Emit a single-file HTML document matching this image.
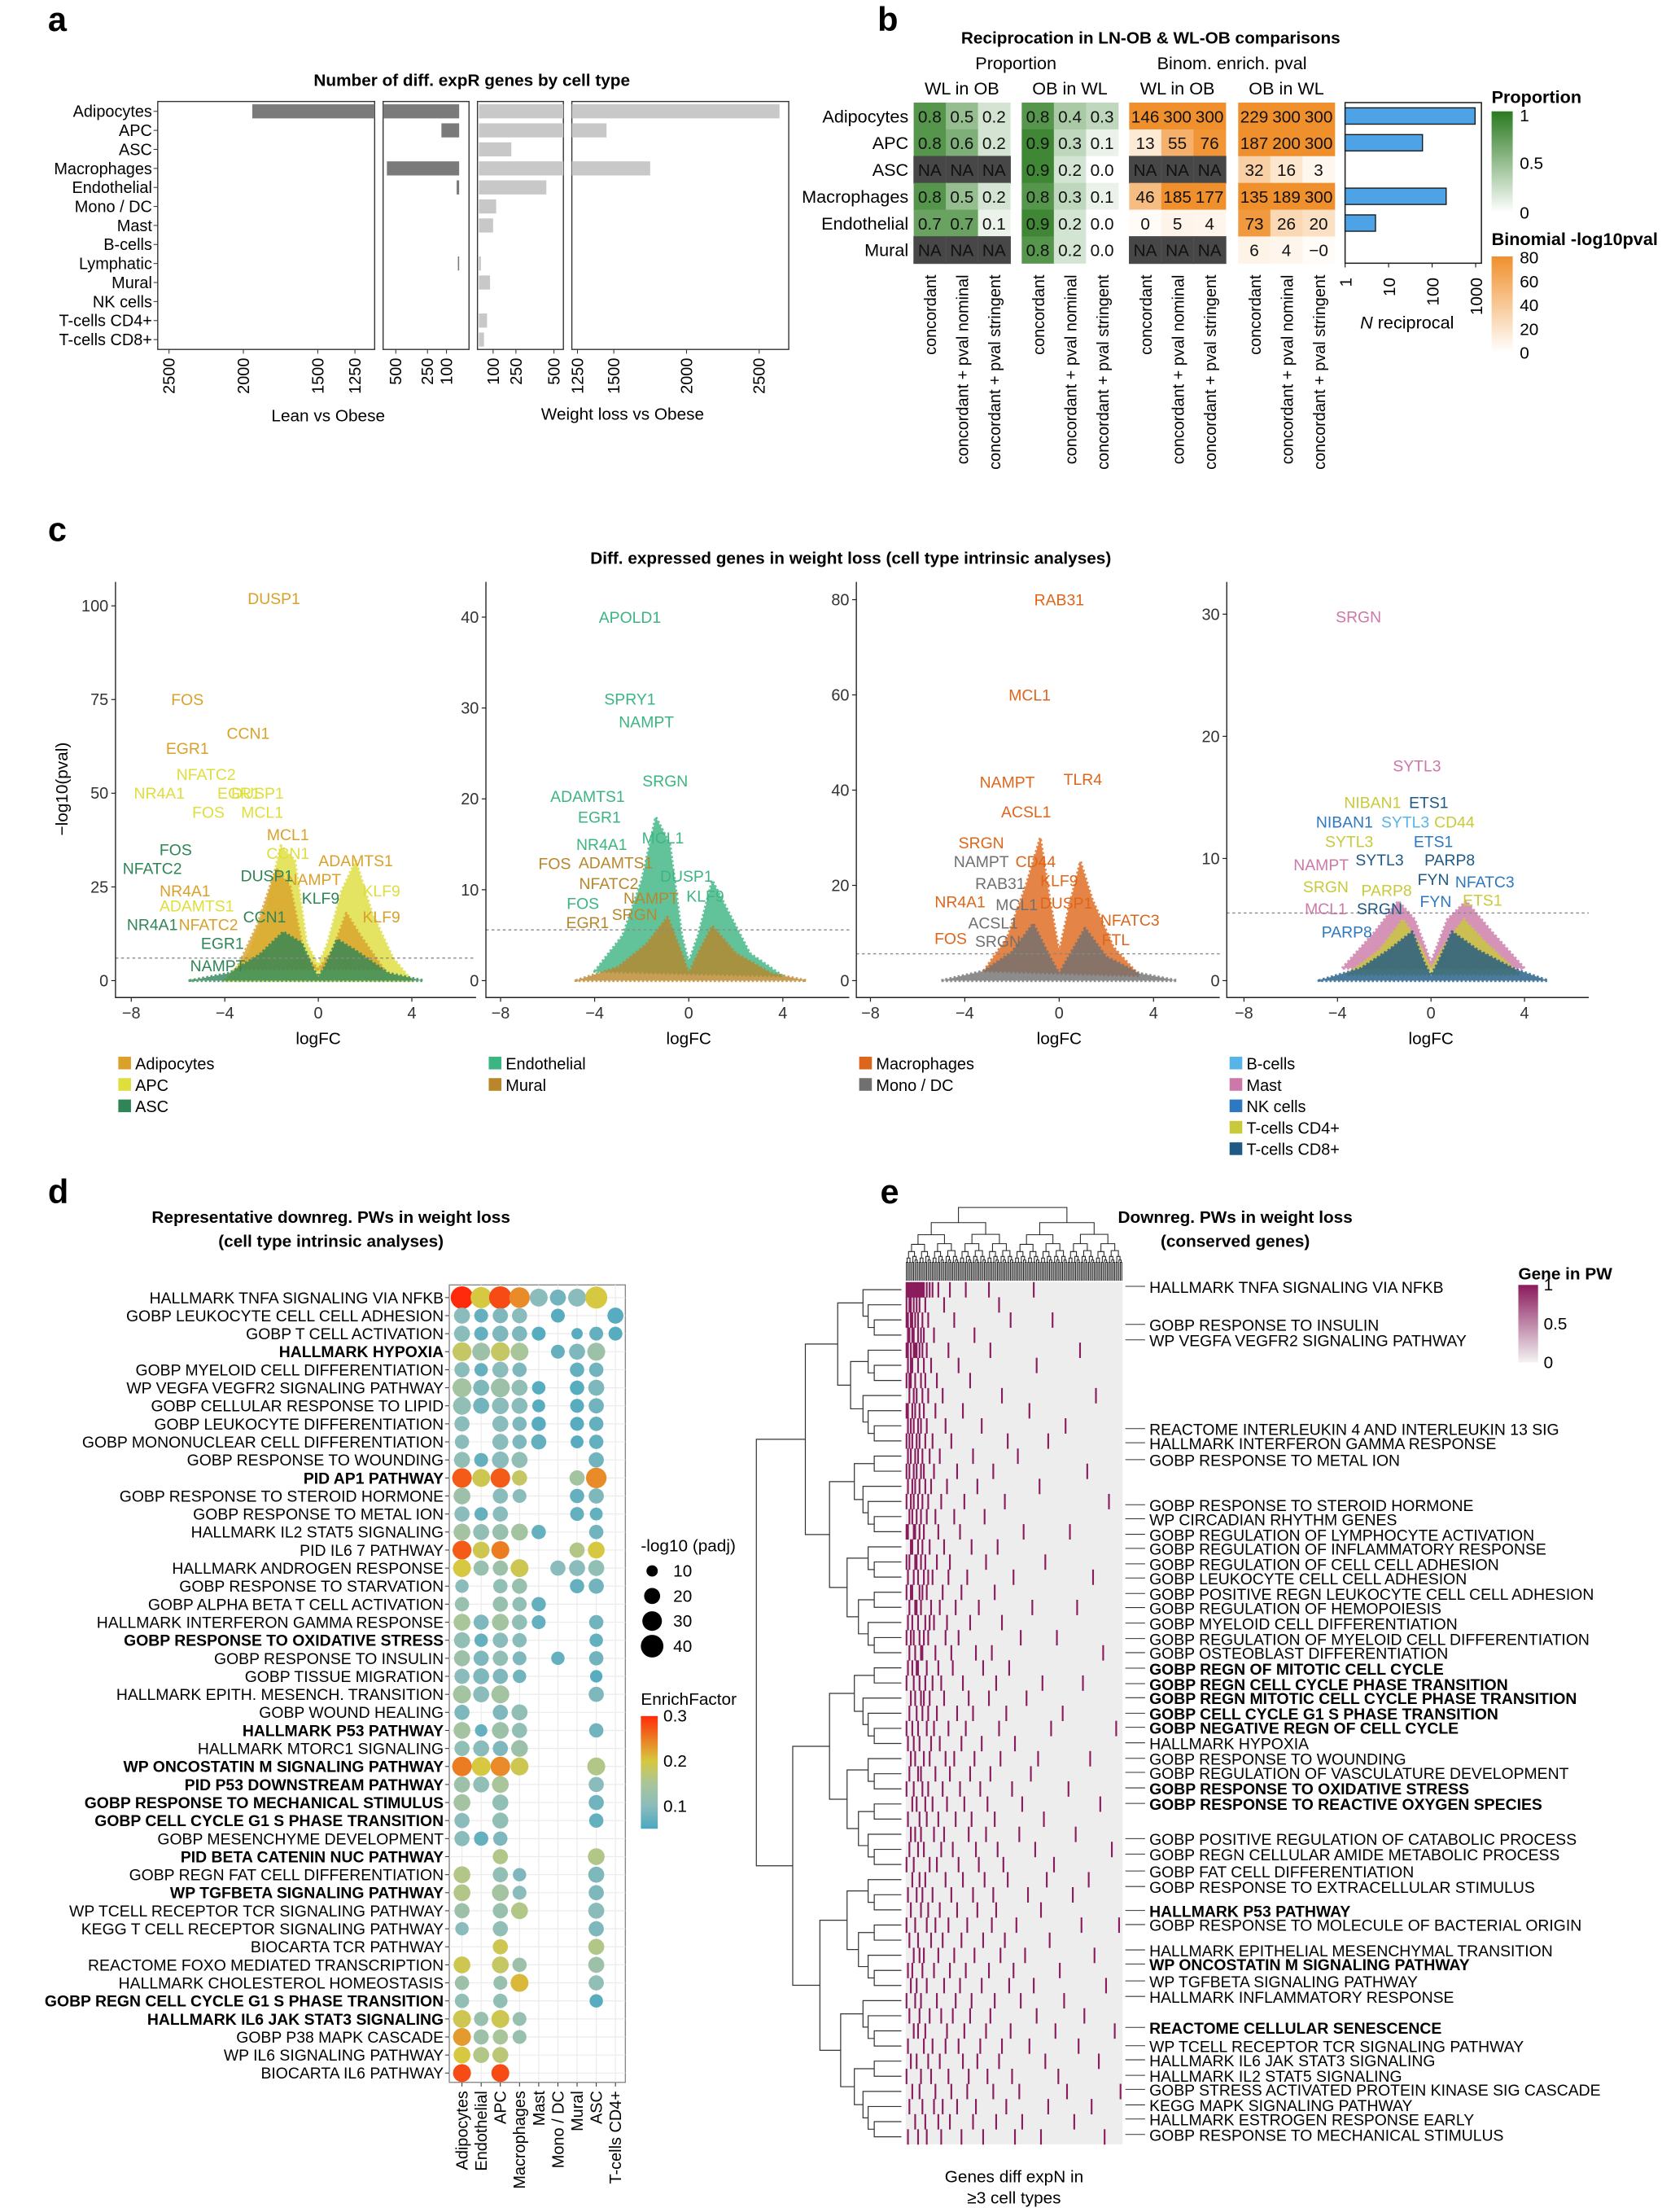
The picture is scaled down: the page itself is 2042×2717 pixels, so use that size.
<!DOCTYPE html>
<html><head><meta charset="utf-8"><style>
html,body{margin:0;padding:0;background:#fff}
svg{display:block;font-family:"Liberation Sans",sans-serif}
.n{font-family:"Liberation Sans Narrow","Liberation Sans",sans-serif}
</style></head><body>
<svg id="fig" xmlns="http://www.w3.org/2000/svg" width="2042" height="2717" viewBox="0 0 1180 1570">
<rect x="0" y="0" width="1180" height="1570" fill="#fff"/>
<text x="34" y="22" font-size="24" font-weight="bold">a</text>
<text x="623" y="22" font-size="24" font-weight="bold">b</text>
<text x="34" y="384" font-size="24" font-weight="bold">c</text>
<text x="34" y="854" font-size="24" font-weight="bold">d</text>
<text x="625" y="854" font-size="24" font-weight="bold">e</text>
<text x="335" y="61" font-size="12" font-weight="bold" text-anchor="middle">Number of diff. expR genes by cell type</text>
<text x="233" y="299" font-size="12" text-anchor="middle">Lean vs Obese</text>
<text x="442" y="298" font-size="12" text-anchor="middle">Weight loss vs Obese</text>
<text x="817" y="31" font-size="12" font-weight="bold" text-anchor="middle">Reciprocation in LN-OB &amp; WL-OB comparisons</text>
<text x="604" y="400" font-size="12" font-weight="bold" text-anchor="middle">Diff. expressed genes in weight loss (cell type intrinsic analyses)</text>
<text x="235" y="868" font-size="12" font-weight="bold" text-anchor="middle">Representative downreg. PWs in weight loss</text>
<text x="235" y="885" font-size="12" font-weight="bold" text-anchor="middle">(cell type intrinsic analyses)</text>
<text x="877" y="868" font-size="12" font-weight="bold" text-anchor="middle">Downreg. PWs in weight loss</text>
<text x="877" y="885" font-size="12" font-weight="bold" text-anchor="middle">(conserved genes)</text>
<text x="720" y="1549" font-size="12" text-anchor="middle">Genes diff expN in</text>
<text x="720" y="1564" font-size="12" text-anchor="middle">≥3 cell types</text>
<g id="ga"></g><g id="gb"></g><g id="gc"></g><g id="gd"></g><g id="ge"></g>
</svg>
<script>
const NS='http://www.w3.org/2000/svg';
function mk(tag,parent,o){const e=document.createElementNS(NS,tag);for(const k in o)e.setAttribute(k,o[k]);parent.appendChild(e);return e;}
function tx(parent,x,y,s,o){const e=mk('text',parent,Object.assign({x:x,y:y},o||{}));e.textContent=s;return e;}
function lerp(a,b,t){return a+(b-a)*t;}
function hex(c){return [parseInt(c.slice(1,3),16),parseInt(c.slice(3,5),16),parseInt(c.slice(5,7),16)];}
function mix(c1,c2,t){const a=hex(c1),b=hex(c2);return 'rgb('+a.map((v,i)=>Math.round(lerp(v,b[i],t))).join(',')+')';}

/* ---------------- Panel a data ---------------- */
const aCats=['Adipocytes','APC','ASC','Macrophages','Endothelial','Mono / DC','Mast','B-cells','Lymphatic','Mural','NK cells','T-cells CD4+','T-cells CD8+'];
const aLean=[1940,140,0,570,20,0,0,0,10,0,0,0,0];
const aWL=[2640,1450,220,1750,450,120,100,0,20,80,0,60,40];
const aTicksLeft1=[2500,2000,1500,1250];
const aTicksLeft2=[500,250,100];
const aTicksRight1=[100,250,500];
const aTicksRight2=[1250,1500,2000,2500];

/* ---------------- Panel b data ---------------- */
const bRows=['Adipocytes','APC','ASC','Macrophages','Endothelial','Mural'];
const bPropWLinOB=[[.8,.5,.2],[.8,.6,.2],null,[.8,.5,.2],[.7,.7,.1],null];
const bPropOBinWL=[[.8,.4,.3],[.9,.3,.1],[.9,.2,0],[.8,.3,.1],[.9,.2,0],[.8,.2,0]];
const bBinWLinOB=[[146,300,300],[13,55,76],null,[46,185,177],[0,5,4],null];
const bBinOBinWL=[[229,300,300],[187,200,300],[32,16,3],[135,189,300],[73,26,20],[6,4,-0]];
const bNRecip=[970,60,0,210,5,0];
const bCols=['concordant','concordant + pval nominal','concordant + pval stringent'];
const bBarTicks=[1,10,100,1000];

/* ---------------- Panel c data ---------------- */
const cGenes1=[['DUSP1',-1.9,102,0],['FOS',-5.6,75,0],['EGR1',-5.6,62,0],['CCN1',-3.0,66,0],['NFATC2',-4.8,55,1],['DUSP1',-2.6,50,1],['NR4A1',-6.8,50,1],['EGR1',-3.4,50,1],['FOS',-4.7,45,1],['MCL1',-2.4,45,1],['MCL1',-1.3,39,0],['FOS',-6.1,35,2],['CCN1',-1.3,34,1],['ADAMTS1',1.6,32,0],['NFATC2',-7.1,30,2],['NAMPT',-0.2,27,0],['DUSP1',-2.2,28,2],['NR4A1',-5.7,24,0],['KLF9',2.7,24,1],['KLF9',0.1,22,2],['ADAMTS1',-5.2,20,1],['NR4A1',-7.1,15,2],['NFATC2',-4.7,15,0],['KLF9',2.7,17,0],['CCN1',-2.3,17,2],['EGR1',-4.1,10,2],['NAMPT',-4.3,4,2]];
const cGenes2=[['APOLD1',-2.5,40,0],['SPRY1',-2.5,31,0],['NAMPT',-1.8,28.5,0],['SRGN',-1.0,22,0],['ADAMTS1',-4.3,20.3,0],['EGR1',-3.8,18,0],['MCL1',-1.1,15.7,0],['NR4A1',-3.7,15,0],['FOS',-5.7,12.9,1],['ADAMTS1',-3.1,13,1],['DUSP1',-0.1,11.5,0],['NFATC2',-3.4,10.7,1],['NAMPT',-1.6,9.1,1],['KLF9',0.7,9.3,0],['FOS',-4.5,8.5,0],['SRGN',-2.3,7.3,1],['EGR1',-4.3,6.4,1]];
const cGenes3=[['RAB31',0,80,0],['MCL1',-1.25,60,0],['NAMPT',-2.2,41.7,0],['TLR4',1,42.3,0],['ACSL1',-1.4,35.5,0],['SRGN',-3.3,29,0],['NAMPT',-3.3,25,1],['CD44',-1,25,0],['KLF9',0,21,0],['RAB31',-2.5,20.4,1],['NR4A1',-4.2,16.6,0],['MCL1',-1.8,16,1],['DUSP1',0.3,16.3,0],['NFATC3',3,12.7,0],['ACSL1',-2.8,12.1,1],['FTL',2.4,8.6,0],['FOS',-4.6,8.9,0],['SRGN',-2.6,8.3,1]];
const cGenes4=[['SRGN',-3.1,29.8,1],['SYTL3',-0.6,17.6,1],['NIBAN1',-2.5,14.6,3],['ETS1',-0.1,14.6,4],['NIBAN1',-3.7,13,2],['SYTL3',-1.1,13,0],['CD44',1,13,3],['SYTL3',-3.5,11.4,3],['ETS1',0.1,11.4,2],['NAMPT',-4.7,9.5,1],['SYTL3',-2.2,9.9,4],['PARP8',0.8,9.9,4],['FYN',0.1,8.3,4],['NFATC3',2.3,8.1,2],['SRGN',-4.5,7.7,3],['PARP8',-1.9,7.4,3],['ETS1',2.2,6.6,3],['FYN',0.2,6.5,2],['MCL1',-4.5,5.9,1],['SRGN',-2.2,5.9,4],['PARP8',-3.6,4,2]];
const cYTicks1=[0,25,50,75,100], cYTicks2=[0,10,20,30,40], cYTicks3=[0,20,40,60,80], cYTicks4=[0,10,20,30];
const cXTicks=[-8,-4,0,4];

/* ---------------- Panel d data ---------------- */
const dPaths=['HALLMARK TNFA SIGNALING VIA NFKB','GOBP LEUKOCYTE CELL CELL ADHESION','GOBP T CELL ACTIVATION','HALLMARK HYPOXIA','GOBP MYELOID CELL DIFFERENTIATION','WP VEGFA VEGFR2 SIGNALING PATHWAY','GOBP CELLULAR RESPONSE TO LIPID','GOBP LEUKOCYTE DIFFERENTIATION','GOBP MONONUCLEAR CELL DIFFERENTIATION','GOBP RESPONSE TO WOUNDING','PID AP1 PATHWAY','GOBP RESPONSE TO STEROID HORMONE','GOBP RESPONSE TO METAL ION','HALLMARK IL2 STAT5 SIGNALING','PID IL6 7 PATHWAY','HALLMARK ANDROGEN RESPONSE','GOBP RESPONSE TO STARVATION','GOBP ALPHA BETA T CELL ACTIVATION','HALLMARK INTERFERON GAMMA RESPONSE','GOBP RESPONSE TO OXIDATIVE STRESS','GOBP RESPONSE TO INSULIN','GOBP TISSUE MIGRATION','HALLMARK EPITH. MESENCH. TRANSITION','GOBP WOUND HEALING','HALLMARK P53 PATHWAY','HALLMARK MTORC1 SIGNALING','WP ONCOSTATIN M SIGNALING PATHWAY','PID P53 DOWNSTREAM PATHWAY','GOBP RESPONSE TO MECHANICAL STIMULUS','GOBP CELL CYCLE G1 S PHASE TRANSITION','GOBP MESENCHYME DEVELOPMENT','PID BETA CATENIN NUC PATHWAY','GOBP REGN FAT CELL DIFFERENTIATION','WP TGFBETA SIGNALING PATHWAY','WP TCELL RECEPTOR TCR SIGNALING PATHWAY','KEGG T CELL RECEPTOR SIGNALING PATHWAY','BIOCARTA TCR PATHWAY','REACTOME FOXO MEDIATED TRANSCRIPTION','HALLMARK CHOLESTEROL HOMEOSTASIS','GOBP REGN CELL CYCLE G1 S PHASE TRANSITION','HALLMARK IL6 JAK STAT3 SIGNALING','GOBP P38 MAPK CASCADE','WP IL6 SIGNALING PATHWAY','BIOCARTA IL6 PATHWAY'];
const dBold=[3,10,19,24,26,27,28,29,31,33,39,40];
const dCells=['Adipocytes','Endothelial','APC','Macrophages','Mast','Mono / DC','Mural','ASC','T-cells CD4+'];
/* each entry: [column, -log10 padj, enrich factor] */
const dDots=[
[[0,40,.3],[1,35,.2],[2,40,.28],[3,33,.24],[4,25,.1],[5,20,.08],[6,25,.1],[7,38,.2]],
[[0,20,.1],[1,15,.07],[2,18,.09],[3,18,.1],[5,15,.06],[8,20,.06]],
[[0,20,.1],[1,15,.07],[2,20,.09],[3,18,.09],[4,15,.06],[6,10,.06],[7,15,.07],[8,15,.06]],
[[0,28,.18],[1,25,.13],[2,28,.18],[3,25,.15],[5,15,.07],[6,20,.09],[7,25,.13]],
[[0,18,.1],[1,14,.07],[2,20,.1],[3,16,.09],[6,16,.07],[7,16,.08]],
[[0,28,.14],[1,20,.09],[2,28,.13],[3,20,.11],[4,14,.06],[6,16,.06],[7,20,.09]],
[[0,25,.11],[1,20,.08],[2,22,.1],[3,20,.1],[4,13,.06],[6,15,.06],[7,18,.08]],
[[0,18,.1],[2,20,.1],[3,16,.09],[4,16,.06],[6,15,.06],[7,16,.07]],
[[0,16,.1],[2,20,.1],[3,16,.09],[4,18,.07],[6,13,.06],[7,16,.07]],
[[0,20,.11],[1,15,.07],[2,22,.1],[3,20,.11],[7,18,.08]],
[[0,30,.27],[1,25,.19],[2,30,.27],[3,18,.18],[6,18,.14],[7,33,.24]],
[[0,22,.13],[2,18,.1],[3,15,.1],[6,16,.07],[7,18,.09]],
[[0,18,.1],[1,14,.07],[2,18,.1],[6,15,.07],[7,13,.07]],
[[0,22,.14],[1,20,.11],[2,20,.12],[3,22,.14],[4,16,.07],[7,16,.08]],
[[0,28,.27],[1,22,.19],[2,25,.25],[6,18,.16],[7,22,.2]],
[[0,25,.2],[1,18,.12],[2,18,.13],[3,25,.19],[5,18,.1],[6,20,.1],[7,20,.11]],
[[0,14,.1],[2,16,.11],[3,18,.12],[6,16,.07],[7,18,.08]],
[[0,16,.12],[2,18,.12],[3,16,.11],[4,16,.07]],
[[0,22,.15],[1,18,.09],[2,22,.14],[3,18,.11],[4,15,.07],[7,16,.08]],
[[0,20,.11],[1,14,.07],[2,18,.1],[3,16,.1],[7,14,.07]],
[[0,20,.13],[1,18,.09],[2,18,.11],[3,15,.09],[5,14,.07],[7,16,.08]],
[[0,18,.1],[1,20,.09],[2,18,.09],[3,14,.08],[7,12,.06]],
[[0,25,.14],[1,20,.1],[2,25,.14],[7,18,.09]],
[[0,18,.09],[2,18,.09],[3,20,.11]],
[[0,22,.14],[1,12,.07],[2,22,.13],[3,18,.11],[7,16,.08]],
[[0,18,.11],[1,20,.1],[2,18,.09],[3,22,.13]],
[[0,30,.25],[1,28,.2],[2,30,.24],[3,25,.19],[7,25,.16]],
[[0,20,.13],[1,20,.11],[2,22,.15],[7,18,.1]],
[[0,22,.14],[2,20,.11],[7,18,.08]],
[[0,18,.1],[2,20,.11],[7,16,.07]],
[[0,18,.1],[1,16,.07],[2,16,.09]],
[[2,18,.16],[7,22,.16]],
[[0,22,.16],[2,18,.11],[3,14,.09],[7,20,.09]],
[[0,22,.16],[2,22,.14],[3,15,.1],[7,18,.09]],
[[0,18,.13],[2,18,.12],[3,22,.16],[7,20,.1]],
[[0,14,.1],[2,18,.11],[7,18,.09]],
[[2,18,.19],[7,20,.16]],
[[0,22,.19],[2,22,.18],[3,16,.13],[7,20,.13]],
[[0,16,.13],[2,15,.12],[3,25,.21],[7,18,.11]],
[[0,16,.11],[2,16,.11],[7,14,.06]],
[[0,25,.19],[1,16,.12],[2,25,.19],[3,15,.12]],
[[0,25,.23],[1,18,.13],[2,18,.15],[3,15,.12]],
[[0,22,.2],[1,20,.16],[2,20,.17]],
[[0,25,.28],[2,25,.28]]];
const dSizeTicks=[10,20,30,40];
const dColorTicks=[0.1,0.2,0.3];

/* ---------------- Panel e data ---------------- */
const eLabels=[['HALLMARK TNFA SIGNALING VIA NFKB',914,0],['GOBP RESPONSE TO INSULIN',941,0],['WP VEGFA VEGFR2 SIGNALING PATHWAY',952,0],['REACTOME INTERLEUKIN 4 AND INTERLEUKIN 13 SIG',1015,0],['HALLMARK INTERFERON GAMMA RESPONSE',1025,0],['GOBP RESPONSE TO METAL ION',1037,0],['GOBP RESPONSE TO STEROID HORMONE',1069,0],['WP CIRCADIAN RHYTHM GENES',1079,0],['GOBP REGULATION OF LYMPHOCYTE ACTIVATION',1090,0],['GOBP REGULATION OF INFLAMMATORY RESPONSE',1100,0],['GOBP REGULATION OF CELL CELL ADHESION',1111,0],['GOBP LEUKOCYTE CELL CELL ADHESION',1121,0],['GOBP POSITIVE REGN LEUKOCYTE CELL CELL ADHESION',1132,0],['GOBP REGULATION OF HEMOPOIESIS',1142,0],['GOBP MYELOID CELL DIFFERENTIATION',1153,0],['GOBP REGULATION OF MYELOID CELL DIFFERENTIATION',1164,0],['GOBP OSTEOBLAST DIFFERENTIATION',1174,0],['GOBP REGN OF MITOTIC CELL CYCLE',1185,1],['GOBP REGN CELL CYCLE PHASE TRANSITION',1196,1],['GOBP REGN MITOTIC CELL CYCLE PHASE TRANSITION',1206,1],['GOBP CELL CYCLE G1 S PHASE TRANSITION',1217,1],['GOBP NEGATIVE REGN OF CELL CYCLE',1227,1],['HALLMARK HYPOXIA',1238,0],['GOBP RESPONSE TO WOUNDING',1249,0],['GOBP REGULATION OF VASCULATURE DEVELOPMENT',1259,0],['GOBP RESPONSE TO OXIDATIVE STRESS',1270,1],['GOBP RESPONSE TO REACTIVE OXYGEN SPECIES',1281,1],['GOBP POSITIVE REGULATION OF CATABOLIC PROCESS',1306,0],['GOBP REGN CELLULAR AMIDE METABOLIC PROCESS',1317,0],['GOBP FAT CELL DIFFERENTIATION',1329,0],['GOBP RESPONSE TO EXTRACELLULAR STIMULUS',1340,0],['HALLMARK P53 PATHWAY',1357,1],['GOBP RESPONSE TO MOLECULE OF BACTERIAL ORIGIN',1367,0],['HALLMARK EPITHELIAL MESENCHYMAL TRANSITION',1385,0],['WP ONCOSTATIN M SIGNALING PATHWAY',1395,1],['WP TGFBETA SIGNALING PATHWAY',1407,0],['HALLMARK INFLAMMATORY RESPONSE',1418,0],['REACTOME CELLULAR SENESCENCE',1440,1],['WP TCELL RECEPTOR TCR SIGNALING PATHWAY',1453,0],['HALLMARK IL6 JAK STAT3 SIGNALING',1463,0],['HALLMARK IL2 STAT5 SIGNALING',1474,0],['GOBP STRESS ACTIVATED PROTEIN KINASE SIG CASCADE',1484,0],['KEGG MAPK SIGNALING PATHWAY',1495,0],['HALLMARK ESTROGEN RESPONSE EARLY',1505,0],['GOBP RESPONSE TO MECHANICAL STIMULUS',1516,0]];
/* gene membership: per pathway row, gene column indices (0-149) */
const eMember=[
[0,1,2,3,4,5,6,7,8,9,10,11,12,14,16,18,22,30,41,57,88],
[0,2,3,5,7,9,13,26,64],
[0,1,3,4,6,8,11,15,33,72,101],
[1,2,4,5,8,10,12,19,47],
[0,1,3,5,6,7,9,11,14,29,58,120],
[1,3,4,8,12,17,36,90],
[0,2,3,6,10,13,21,44],
[2,5,7,11,15,25,66,131],
[0,1,4,6,9,12,20,39,85],
[1,3,5,8,10,14,27,52,110],
[0,2,4,7,9,13,18,31,70,98],
[1,3,6,8,11,16,23,46,77],
[0,2,5,7,10,12,19,35,60,125],
[1,4,6,9,13,17,28,49,92],
[0,3,5,8,11,15,24,40,68,140],
[2,4,7,10,14,20,33,54],
[0,1,5,6,9,12,22,37,81,113],
[3,4,8,11,16,26,45,63],
[0,2,6,7,10,13,21,30,55,96],
[1,5,8,12,15,18,29,42,74,129],
[0,3,4,9,11,14,25,38,61],
[2,6,7,10,17,23,34,50,87,118],
[1,4,8,13,16,19,28,44,66],
[0,3,5,9,12,15,27,36,79,104],
[2,6,10,11,20,31,48,59,136],
[1,4,7,8,14,22,32,53,71],
[0,5,9,13,18,24,39,62,94,122],
[3,6,10,12,16,26,43,57,83],
[2,7,11,15,21,35,46,69,108],
[0,4,8,14,19,29,41,64,100,145],
[1,5,9,17,23,38,52,75],
[3,6,12,16,27,33,47,65,91,127],
[2,8,10,20,30,44,58,86],
[0,5,11,15,25,37,51,73,112],
[4,7,13,18,28,40,56,80,134],
[1,9,14,22,34,45,61,95],
[3,6,10,19,26,43,55,78,117],
[2,8,12,24,32,48,63,89,142],
[0,5,16,21,36,50,67,102],
[4,9,13,27,39,54,70,97,126],
[1,7,11,18,31,46,60,84,115],
[3,10,15,23,35,49,62,93],
[0,6,14,20,29,42,59,76,121,147],
[2,8,17,25,38,53,68,99],
[5,9,12,22,33,47,65,82,130],
[1,4,11,19,30,41,57,74,106],
[3,7,14,26,37,52,71,88,138],
[0,6,10,21,34,45,61,79,109],
[2,9,16,24,32,44,58,90,123],
[5,8,13,28,40,55,72,103,144],
[1,12,18,27,36,51,66,85,119],
[3,7,15,23,39,49,64,96,133],
[0,10,17,29,43,56,73,105],
[4,9,20,31,42,60,78,111,148],
[2,11,19,25,35,48,69,98,128],
[6,13,22,30,46,62,80,116],
[1,8,14,24,38,53,75,93,137]];
const eLegendTicks=[1,0.5,0];

/* ============ draw panel a ============ */
(function(){
const g=document.getElementById('ga');
const yTop=72,yBot=248;
const ry=i=>79+i*13.5;
const xL1=v=>252-(v-1250)*0.1056;
const xL2=v=>326-v*0.09;
const xR1=v=>339.3+v*0.108;
const xR2=v=>410+(v-1250)*0.1032;
const frames=[[112,266],[272,333],[339,400],[406,560]];
frames.forEach((f,k)=>{
 const r=mk('rect',g,{x:f[0],y:yTop,width:f[1]-f[0],height:yBot-yTop,fill:'none',stroke:'#333','stroke-width':0.8});
 
 
});
aCats.forEach((c,i)=>{
 const t=tx(g,108,ry(i)+4,c,{'font-size':11.5,'text-anchor':'end'});
 
 
 mk('line',g,{x1:109,x2:112,y1:ry(i),y2:ry(i),stroke:'#333','stroke-width':0.6});
 const v=aLean[i];
 if(v>0){
  const x0=Math.max(272,xL2(Math.min(v,604)));
  const b=mk('rect',g,{x:x0,y:ry(i)-5,width:326-x0,height:10,fill:'#7a7a7a'});
  
  
  if(v>1250){
   const b2=mk('rect',g,{x:xL1(v),y:ry(i)-5,width:266-xL1(v),height:10,fill:'#7a7a7a'});
   
   
  }
 }
 const w=aWL[i];
 if(w>0){
  const x1=Math.min(400,xR1(w));
  const b=mk('rect',g,{x:340,y:ry(i)-5,width:x1-340,height:10,fill:'#c8c8c8'});
  
  
  if(w>1211){
   const b2=mk('rect',g,{x:406,y:ry(i)-5,width:xR2(w)-406,height:10,fill:'#c8c8c8'});
   
   
  }
 }
});
function ticks(arr,fn,name){arr.forEach(v=>{const x=fn(v);mk('line',g,{x1:x,x2:x,y1:yBot,y2:yBot+3,stroke:'#333','stroke-width':0.6});
 const t=tx(g,x+4,yBot+6,String(v),{'font-size':11.5,'text-anchor':'end',transform:'rotate(-90 '+(x+4)+' '+(yBot+6)+')'});
 
 });}
ticks(aTicksLeft1,xL1,'lean-upper');ticks(aTicksLeft2,xL2,'lean-lower');ticks(aTicksRight1,xR1,'wl-lower');ticks(aTicksRight2,xR2,'wl-upper');
})();

/* ============ draw panel b ============ */
(function(){
const g=document.getElementById('gb');
const gx=[648.7,725.4,801.7,879.1],cw=22.83,rh=19,top=72.8;
const propC=v=>mix('#ffffff','#2a7a1f',Math.max(0,Math.min(1,v)));
const binC=v=>mix('#fffbf6','#f0902c',Math.max(0,Math.min(80,v))/80);
const groups=[[bPropWLinOB,propC,'prop-wl-in-ob'],[bPropOBinWL,propC,'prop-ob-in-wl'],[bBinWLinOB,binC,'binom-wl-in-ob'],[bBinOBinWL,binC,'binom-ob-in-wl']];
const hdr=['WL in OB','OB in WL','WL in OB','OB in WL'];
hdr.forEach((h,k)=>{const t=tx(g,gx[k]+cw*1.5,67,h,{'font-size':12.5,'text-anchor':'middle','class':'n'});
 
 });
let t=tx(g,(gx[0]+gx[1]+3*cw)/2,49,'Proportion',{'font-size':12.5,'text-anchor':'middle','class':'n'});


t=tx(g,(gx[2]+gx[3]+3*cw)/2,49,'Binom. enrich. pval',{'font-size':12.5,'text-anchor':'middle','class':'n'});


bRows.forEach((r,i)=>{
 const y=top+i*rh;
 const l=tx(g,645,y+rh/2+4.5,r,{'font-size':12.5,'text-anchor':'end','class':'n'});
 
 
 groups.forEach((G,k)=>{
  for(let j=0;j<3;j++){
   const row=G[0][i];const v=row?row[j]:null;
   const x=gx[k]+j*cw;
   const c=mk('rect',g,{x:x,y:y,width:cw+0.3,height:rh+0.3,fill:v===null?'#474747':G[1](v),stroke:v===null?'#555':'none','stroke-width':0.4});
   
   
   const s=v===null?'NA':(k<2?v.toFixed(1):(Object.is(v,-0)?'−0':String(v)));
   const tt=tx(g,x+cw/2,y+rh/2+4.5,s,{'font-size':12,'text-anchor':'middle','class':'n',fill:'#111'});
   
   
  }
 });
});
for(let k=0;k<4;k++)for(let j=0;j<3;j++){
 const x=gx[k]+j*cw+cw/2+4.5;
 const lt=tx(g,x,195,bCols[j],{'font-size':11.5,'text-anchor':'end',transform:'rotate(-90 '+x+' 195)'});
 
 
}
const bx0=955,bx1=1051.8,dec=30.9;
const xb=v=>bx0+Math.log10(v)*dec;
let fr=mk('rect',g,{x:bx0,y:top,width:bx1-bx0,height:rh*6,fill:'none',stroke:'#222','stroke-width':0.9});


bNRecip.forEach((v,i)=>{ if(v>1){
 const b=mk('rect',g,{x:bx0,y:top+i*rh+3.7,width:xb(v)-bx0,height:11.6,fill:'#4da3e6',stroke:'#1a1a1a','stroke-width':0.8});
 
 }});
bBarTicks.forEach(v=>{const x=xb(v);mk('line',g,{x1:x,x2:x,y1:top+rh*6,y2:top+rh*6+3,stroke:'#222','stroke-width':0.7});
 const lt=tx(g,x+4.5,197,String(v),{'font-size':12,'text-anchor':'end','class':'n',transform:'rotate(-90 '+(x+4.5)+' 197)'});
 
 });
t=tx(g,999,233,'',{'font-size':12.5,'text-anchor':'middle','class':'n'});
t.innerHTML='<tspan font-style="italic">N</tspan> reciprocal';


const defs=mk('defs',g,{});
const lg1=mk('linearGradient',defs,{id:'gProp',x1:0,y1:0,x2:0,y2:1});
mk('stop',lg1,{offset:0,'stop-color':'#2a7a1f'});mk('stop',lg1,{offset:1,'stop-color':'#ffffff'});
const lg2=mk('linearGradient',defs,{id:'gBin',x1:0,y1:0,x2:0,y2:1});
mk('stop',lg2,{offset:0,'stop-color':'#f0902c'});mk('stop',lg2,{offset:1,'stop-color':'#ffffff'});
t=tx(g,1059,73,'Proportion',{'font-size':12.5,'font-weight':'bold','class':'n'});


let r=mk('rect',g,{x:1059,y:79,width:15,height:72,fill:'url(#gProp)'});


[[1,82],[0.5,116],[0,151]].forEach(p=>{const lt=tx(g,1079,p[1]+4,String(p[0]),{'font-size':12,'class':'n'});
 
 });
t=tx(g,1059,174,'Binomial -log10pval',{'font-size':12.5,'font-weight':'bold','class':'n'});


r=mk('rect',g,{x:1059,y:182,width:15,height:68,fill:'url(#gBin)'});


[80,60,40,20,0].forEach((v,k)=>{const lt=tx(g,1079,187+k*16.9,String(v),{'font-size':12,'class':'n'});
 
 });
})();

/* ============ draw panel c ============ */
(function(){
const g=document.getElementById('gc');
const panels=[
 {x0:226,sx:16.6,sy:2.66,left:82,right:338,genes:cGenes1,yt:cYTicks1,dash:680,cols:['#d9a12a','#dede3c','#2f8556'],names:['Adipocytes','APC','ASC'],
  clouds:[[1,[[-4,0],[-3,7],[-2.2,20],[-1.6,36],[-1,32],[-0.5,10],[0,4],[0.4,10],[1,24],[1.6,32],[2.3,18],[3.2,6],[4,0]]],
          [0,[[-3.5,3],[-2.6,15],[-1.8,30],[-1.2,25],[-0.6,7],[0,3],[0.6,8],[1.2,18],[1.8,12],[2.8,3]]],
          [2,[[-5.5,0],[-3.8,2],[-2.5,7],[-1.5,13],[-0.7,10],[-0.2,3],[0,1],[0.3,4],[0.8,11],[1.6,8],[3,2],[4.5,0]]]]},
 {x0:489,sx:16.7,sy:6.45,left:345,right:603,genes:cGenes2,yt:cYTicks2,dash:660,cols:['#3cb582','#b9862c'],names:['Endothelial','Mural'],
  clouds:[[0,[[-4,1],[-2.8,5],[-2,11],[-1.4,18],[-0.8,15],[-0.3,5],[0,2],[0.4,5],[1,11],[1.6,8],[2.6,3],[4,0.5]]],
          [1,[[-4.8,0],[-3,1.5],[-1.8,4],[-0.9,7],[-0.3,3],[0,0.8],[0.4,3],[1,6],[2,3],[3.5,0.8],[5,0]]]]},
 {x0:752,sx:16.75,sy:3.38,left:608,right:866,genes:cGenes3,yt:cYTicks3,dash:677,cols:['#de661a','#707070'],names:['Macrophages','Mono / DC'],
  clouds:[[0,[[-3.2,2],[-2.2,9],[-1.4,20],[-0.8,30],[-0.4,17],[0,6],[0.4,15],[0.9,25],[1.4,17],[2.3,7],[3.4,1]]],
          [1,[[-5,0],[-3.2,2],[-2,6],[-1.1,12],[-0.4,5],[0,1.5],[0.4,5],[1.1,11],[2,5],[3.4,1.5],[5,0]]]]},
 {x0:1016,sx:16.6,sy:8.67,left:871,right:1128,genes:cGenes4,yt:cYTicks4,dash:648,cols:['#56b4e9','#cc79a7','#2e78c0','#c9c93a','#1f5a85'],names:['B-cells','Mast','NK cells','T-cells CD4+','T-cells CD8+'],
  clouds:[[1,[[-3.8,1],[-2.4,4],[-1.4,6.5],[-0.7,5],[0,1.5],[0.7,5],[1.5,6.5],[2.6,4],[4,1]]],
          [3,[[-3.6,0.5],[-2.2,2.5],[-1.2,5],[-0.5,3],[0,1],[0.6,3],[1.4,5],[2.4,3],[3.8,0.5]]],
          [4,[[-4.8,0],[-3,1],[-1.8,2.5],[-0.8,4],[-0.3,1.5],[0,0.4],[0.3,1.5],[0.9,4],[2,2.5],[3.5,1],[5,0]]]]}
];
panels.forEach((P,pi)=>{
 const X=v=>P.x0+v*P.sx, Y=v=>696-v*P.sy;
 P.clouds.forEach((cl,ci)=>{
  const pts=cl[1].map(p=>X(p[0]).toFixed(1)+','+Y(p[1]).toFixed(1)).join(' ');
  const pl=mk('polygon',g,{points:pts,fill:P.cols[cl[0]],opacity:0.8,stroke:P.cols[cl[0]],'stroke-width':2,'stroke-dasharray':'1.5 1.5','stroke-linejoin':'round'});
  
  
 });
 const d=mk('line',g,{x1:P.left,x2:P.right,y1:P.dash,y2:P.dash,stroke:'#888','stroke-width':0.8,'stroke-dasharray':'2 2'});
 
 
 const ax=mk('path',g,{d:'M'+P.left+' 413 V708 H'+P.right,fill:'none',stroke:'#222','stroke-width':0.8});
 
 
 P.yt.forEach(v=>{mk('line',g,{x1:P.left-3,x2:P.left,y1:Y(v),y2:Y(v),stroke:'#222','stroke-width':0.7});
  const t=tx(g,P.left-5,Y(v)+4,String(v),{'font-size':11.5,'text-anchor':'end',fill:'#333'});
  
  });
 cXTicks.forEach(v=>{mk('line',g,{x1:X(v),x2:X(v),y1:708,y2:711,stroke:'#222','stroke-width':0.7});
  const t=tx(g,X(v),723,v<0?'−'+(-v):String(v),{'font-size':11.5,'text-anchor':'middle',fill:'#333'});
  
  });
 const xl=tx(g,X(0),741,'logFC',{'font-size':12,'text-anchor':'middle'});
 
 
 P.genes.forEach(gn=>{
  const t=tx(g,X(gn[1]),Y(gn[2])+4,gn[0],{'font-size':11.2,'text-anchor':'middle',fill:P.cols[gn[3]]});
  
  
 });
 P.names.forEach((n,k)=>{
  const r=mk('rect',g,{x:P.left+2,y:750+k*15.2,width:9,height:9,fill:P.cols[k]});
  
  
  const t=tx(g,P.left+14,759+k*15.2,n,{'font-size':11.5});
  
  
 });
});
const yl=tx(g,48,560,'−log10(pval)',{'font-size':12,'text-anchor':'middle',transform:'rotate(-90 48 560)'});


})();

/* ============ draw panel d ============ */
(function(){
const g=document.getElementById('gd');
const cx=j=>328+j*13.62, cy=i=>921+i*12.8;
const rad=v=>1.27*Math.sqrt(v);
const stops=[[0.05,'#4aa8c0'],[0.1,'#8bbcbc'],[0.15,'#a9c59a'],[0.2,'#d6c840'],[0.25,'#ec7c22'],[0.3,'#ff2a0c']];
function col(v){if(v<=stops[0][0])return stops[0][1];for(let k=1;k<stops.length;k++){if(v<=stops[k][0]){const t=(v-stops[k-1][0])/(stops[k][0]-stops[k-1][0]);return mix(stops[k-1][1],stops[k][1],t);}}return stops[stops.length-1][1];}
const bx=mk('rect',g,{x:319,y:912,width:125,height:566,fill:'#fff',stroke:'#888','stroke-width':0.8});


dCells.forEach((c,j)=>{mk('line',g,{x1:cx(j),x2:cx(j),y1:912,y2:1478,stroke:'#ebebeb','stroke-width':0.7});});
dPaths.forEach((p,i)=>{mk('line',g,{x1:319,x2:444,y1:cy(i),y2:cy(i),stroke:'#ebebeb','stroke-width':0.7});
 const t=tx(g,315,cy(i)+4,p,{'font-size':11.2,'text-anchor':'end','font-weight':dBold.includes(i)?'bold':'normal'});
 
 
 mk('line',g,{x1:316,x2:319,y1:cy(i),y2:cy(i),stroke:'#333','stroke-width':0.6});
});
dDots.forEach((row,i)=>row.forEach(d=>{
 const c=mk('circle',g,{cx:cx(d[0]),cy:cy(i),r:rad(d[1]),fill:col(d[2])});
 
 
}));
dCells.forEach((c,j)=>{const x=cx(j)+4;mk('line',g,{x1:cx(j),x2:cx(j),y1:1478,y2:1481,stroke:'#333','stroke-width':0.6});
 const t=tx(g,x,1484,c,{'font-size':11.5,'text-anchor':'end',transform:'rotate(-90 '+x+' 1484)'});
 
 });
let t=tx(g,455,1101,'-log10 (padj)',{'font-size':12});


dSizeTicks.forEach((v,k)=>{const y=1115+k*17.8;
 const c=mk('circle',g,{cx:463,cy:y,r:rad(v),fill:'#000'});
 
 
 const l=tx(g,478,y+4,String(v),{'font-size':12});
 
 });
t=tx(g,455,1210,'EnrichFactor',{'font-size':12});


const defs=mk('defs',g,{});
const lg=mk('linearGradient',defs,{id:'gEnr',x1:0,y1:1,x2:0,y2:0});
stops.forEach(s=>mk('stop',lg,{offset:((s[0]-0.05)/0.25).toFixed(2),'stop-color':s[1]}));
const r=mk('rect',g,{x:455,y:1218,width:12,height:80,fill:'url(#gEnr)'});


dColorTicks.forEach(v=>{const y=1298-(v-0.05)/0.25*80;
 const l=tx(g,471,y+4,String(v),{'font-size':12});
 
 });
})();

/* ============ draw panel e ============ */
(function(){
const g=document.getElementById('ge');
const hx0=643,hx1=797,hy0=910,hy1=1522,nC=150,nR=eMember.length;
const cwid=(hx1-hx0)/nC, rhgt=(hy1-hy0)/nR;
const bg=mk('rect',g,{x:hx0,y:hy0,width:hx1-hx0,height:hy1-hy0,fill:'#ededed'});


eMember.forEach((row,i)=>row.forEach(c=>{
 const r=mk('rect',g,{x:hx0+c*cwid,y:hy0+i*rhgt,width:cwid+0.2,height:rhgt+0.2,fill:'#8a1b5c'});
 
 
}));
const rd=mk('g',g,{stroke:'#333','stroke-width':0.7,fill:'none'});


function rtree(a,b){
 const n=b-a+1; if(n===1) return [hy0+(a+0.5)*rhgt,640];
 const m=a+Math.max(0,Math.floor(n*0.45)-1);
 const L=rtree(a,m),R=rtree(m+1,b);const x=640-103*Math.sqrt(n/nR);
 mk('path',rd,{d:'M'+L[1]+' '+L[0]+'H'+x+'V'+R[0]+'H'+R[1]});
 return [(L[0]+R[0])/2,x];}
rtree(0,nR-1);
const cd=mk('g',g,{stroke:'#222','stroke-width':0.6,fill:'none'});


function ctree(a,b){
 const n=b-a+1; if(n===1) return [hx0+(a+0.5)*cwid,hy0-1];
 const m=a+Math.max(0,Math.floor(n*0.5)-1);
 const L=ctree(a,m),R=ctree(m+1,b);const y=hy0-3-50*Math.pow(n/nC,0.35);
 mk('path',cd,{d:'M'+L[0]+' '+L[1]+'V'+y+'H'+R[0]+'V'+R[1]});
 return [(L[0]+R[0])/2,y];}
ctree(0,nC-1);
eLabels.forEach((l,k)=>{
 const ry=Math.min(hy1-2,Math.max(hy0+2,l[1]-1));
 mk('path',g,{d:'M799 '+ry+' H803 L809 '+(l[1]-1)+' H813',stroke:'#333','stroke-width':0.6,fill:'none'});
 const t=tx(g,816,l[1]+3.5,l[0],{'font-size':11.2,'font-weight':l[2]?'bold':'normal'});
 
 
});
let t=tx(g,1078,908,'Gene in PW',{'font-size':12,'font-weight':'bold'});


const defs=mk('defs',g,{});
const lg=mk('linearGradient',defs,{id:'gPW',x1:0,y1:0,x2:0,y2:1});
mk('stop',lg,{offset:0,'stop-color':'#8a1b5c'});mk('stop',lg,{offset:1,'stop-color':'#f3f3f3'});
const r=mk('rect',g,{x:1078,y:912,width:14,height:55,fill:'url(#gPW)'});


eLegendTicks.forEach(v=>{const y=912+(1-v)*55;
 const l=tx(g,1096,y+4,String(v),{'font-size':12});
 
 });
})();
</script>
</body></html>
